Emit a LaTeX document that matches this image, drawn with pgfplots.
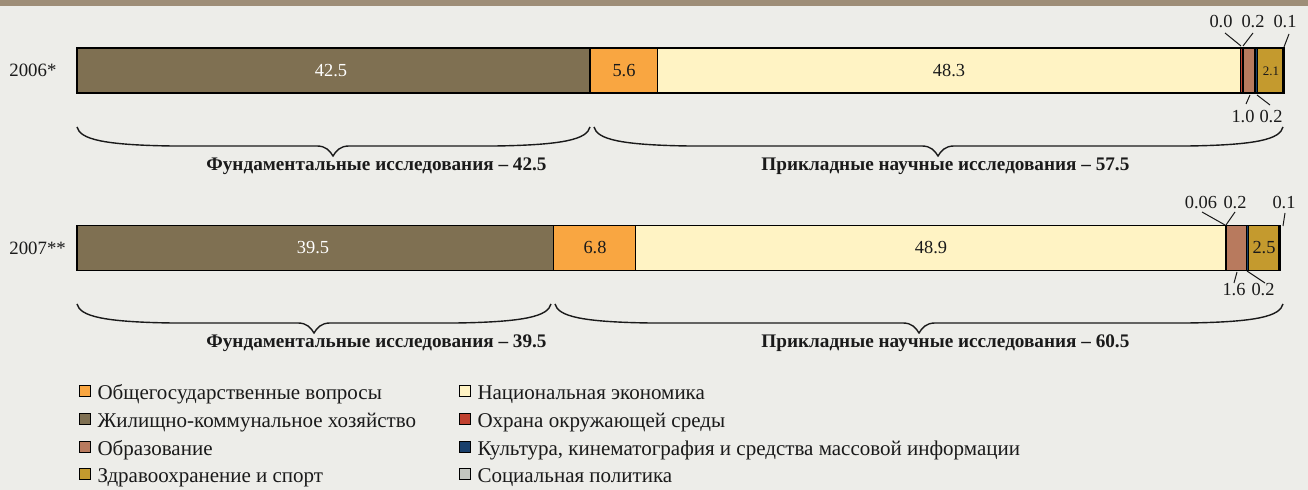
\documentclass[border=0pt]{standalone}
\usepackage{fontspec}
\setmainfont{Liberation Serif}
\usepackage{pgfplots}
\pgfplotsset{compat=1.18}
\usepackage{pgfplotstable}
\definecolor{bgc}{HTML}{EDEDE9}
\definecolor{band}{HTML}{9E8E78}
\definecolor{cBrown}{HTML}{7F7052}
\definecolor{cOrange}{HTML}{F9A641}
\definecolor{cYellow}{HTML}{FFF3C4}
\definecolor{cRed}{HTML}{C0402E}
\definecolor{cEdu}{HTML}{B87A5E}
\definecolor{cBlue}{HTML}{183F6B}
\definecolor{cHealth}{HTML}{C49A2E}
\definecolor{cSocial}{HTML}{C4C7C0}
\definecolor{txt}{HTML}{1A1A1A}

\pgfplotstableread{
pos brown orange yellow red edu blue health social
70.5 42.5 5.6 48.3 0.2 1.0 0.2 2.1 0.1
248 39.5 6.8 48.9 0.06 1.6 0.2 2.5 0.1
}\shares

\tikzset{vl/.style={font=\fontsize{9.2}{11}\selectfont, text=txt}}
% brace: a, b, tip x, top y
\newcommand\mybrace[4]{%
  \draw[line width=0.7pt, txt] (#1,#4) .. controls ({#1+3},{#4+12}) and ({#1+25},{#4+18}) .. ({#1+95},{#4+19})
  -- ({#3-16},{#4+19}) .. controls ({#3-7},{#4+19}) and ({#3-3},{#4+24}) .. (#3,{#4+29})
  .. controls ({#3+3},{#4+24}) and ({#3+7},{#4+19}) .. ({#3+16},{#4+19})
  -- ({#2-95},{#4+19}) .. controls ({#2-25},{#4+18}) and ({#2-3},{#4+12}) .. (#2,#4);}

\begin{document}
\begin{tikzpicture}
\begin{scope}[x=0.5pt,y=-0.5pt]
\useasboundingbox (0,0) rectangle (1308,490);
\fill[bgc] (0,0) rectangle (1308,490);
\fill[band] (0,0) rectangle (1308,6);
\end{scope}
\begin{axis}[
  at={(38.5pt,0pt)}, anchor=north west,
  scale only axis, width=603.5pt, height=245pt,
  xmin=0, xmax=100, ymin=0, ymax=490, y dir=reverse,
  xbar stacked, bar width=22.5pt,
  axis line style={draw=none}, major tick length=0pt,
  xtick=\empty, ytick={70.5,248}, yticklabels={2006*,2007**},
  yticklabel style={font=\fontsize{9.4}{11}\selectfont, text=txt, anchor=west, inner sep=0pt, xshift=-34pt},
  clip=false,
]
\addplot[fill=cBrown, draw=black, line width=0.6pt] table[x=brown, y=pos] {\shares};
\addplot[fill=cOrange, draw=black, line width=0.6pt] table[x=orange, y=pos] {\shares};
\addplot[fill=cYellow, draw=black, line width=0.6pt] table[x=yellow, y=pos] {\shares};
\addplot[fill=cRed, draw=black, line width=0.6pt] table[x=red, y=pos] {\shares};
\addplot[fill=cEdu, draw=black, line width=0.6pt] table[x=edu, y=pos] {\shares};
\addplot[fill=cBlue, draw=black, line width=0.6pt] table[x=blue, y=pos] {\shares};
\addplot[fill=cHealth, draw=black, line width=0.6pt] table[x=health, y=pos] {\shares};
\addplot[fill=cSocial, draw=black, line width=0.6pt] table[x=social, y=pos] {\shares};
\end{axis}

\begin{scope}[x=0.5pt,y=-0.5pt]
% values inside bars
\node[vl, text=white] at (331,71) {42.5};
\node[vl] at (624,71) {5.6};
\node[vl] at (949,71) {48.3};
\node[vl, font=\fontsize{6.5}{8}\selectfont] at (1271,71) {2.1};
\node[vl, text=white] at (313,248) {39.5};
\node[vl] at (595,248) {6.8};
\node[vl] at (931,248) {48.9};
\node[vl] at (1264,248) {2.5};

% small-value annotations
\begin{scope}[every node/.style={font=\fontsize{9.2}{11}\selectfont, text=txt, inner sep=0pt}, line width=0.5pt, txt]
\node at (1221,22) {0.0};
\node at (1253,22) {0.2};
\node at (1285,22) {0.1};
\draw (1225,33) -- (1241,46);
\draw (1253,33) -- (1243,46);
\draw (1289,34) -- (1284,47);
\node at (1243,117) {1.0};
\node at (1271,117) {0.2};
\draw (1250,95) -- (1246,104);
\draw (1257,95) -- (1270,105);

\node at (1201,203) {0.06};
\node at (1235,203) {0.2};
\node at (1284,203) {0.1};
\draw (1202,212) -- (1225,225);
\draw (1235,212) -- (1226,225);
\draw (1285,213) -- (1283,226);
\node at (1234,290) {1.6};
\node at (1263,290) {0.2};
\draw (1237,272) -- (1234,283);
\draw (1247,271) -- (1265,283);
\end{scope}

% braces
\mybrace{77}{590}{333}{127}
\mybrace{594}{1283}{938}{127}
\mybrace{77}{551}{314}{304}
\mybrace{555}{1283}{919}{304}
\begin{scope}[every node/.style={font=\bfseries\fontsize{9.6}{11}\selectfont, text=txt, anchor=west, inner sep=0pt}]
\node at (206,166) {Фундаментальные исследования – 42.5};
\node at (761,166) {Прикладные научные исследования – 57.5};
\node at (206,343) {Фундаментальные исследования – 39.5};
\node at (761,343) {Прикладные научные исследования – 60.5};
\end{scope}

% legend
\begin{scope}[line width=0.5pt, every node/.style={font=\fontsize{10.5}{12}\selectfont, text=txt, anchor=base west, inner sep=0pt}]
\draw[fill=cOrange] (79,386) rectangle (90,397);
\node at (97,400) {Общегосударственные вопросы};
\draw[fill=cBrown] (79,414) rectangle (90,425);
\node at (97,428) {Жилищно-коммунальное хозяйство};
\draw[fill=cEdu] (79,442) rectangle (90,453);
\node at (97,456) {Образование};
\draw[fill=cHealth] (79,469) rectangle (90,480);
\node at (97,483) {Здравоохранение и спорт};
\draw[fill=cYellow] (459,386) rectangle (470,397);
\node at (477,400) {Национальная экономика};
\draw[fill=cRed] (459,414) rectangle (470,425);
\node at (477,428) {Охрана окружающей среды};
\draw[fill=cBlue] (459,442) rectangle (470,453);
\node at (477,456) {Культура, кинематография и средства массовой информации};
\draw[fill=cSocial] (459,469) rectangle (470,480);
\node at (477,483) {Социальная политика};
\end{scope}
\end{scope}
\end{tikzpicture}
\end{document}
